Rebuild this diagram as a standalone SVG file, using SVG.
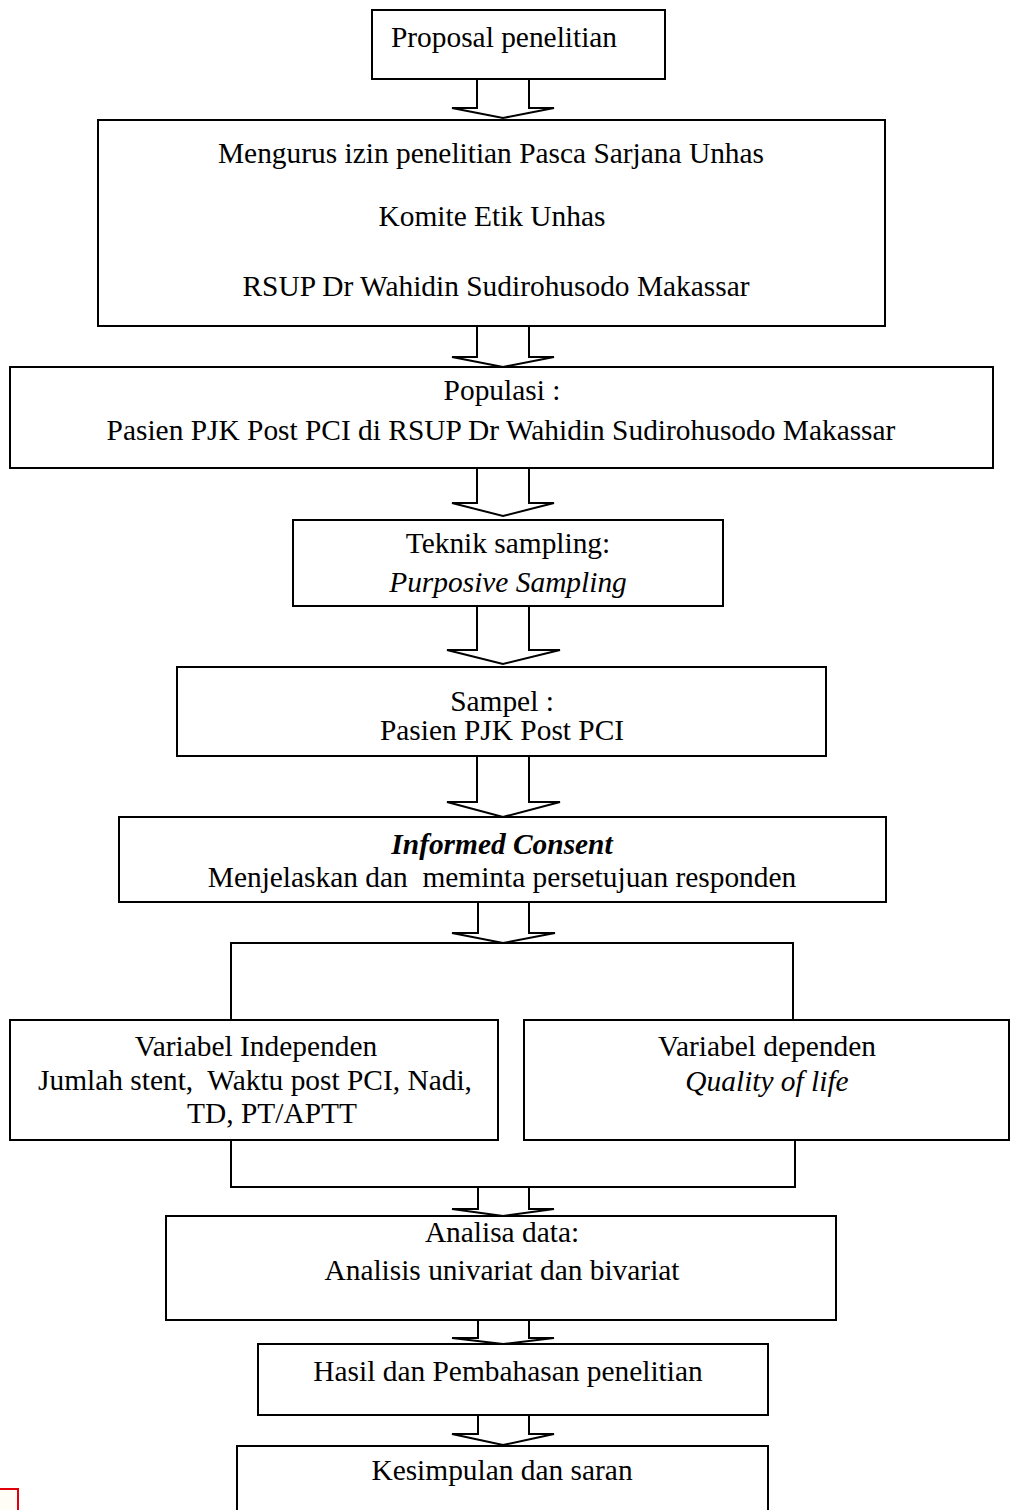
<svg xmlns="http://www.w3.org/2000/svg" width="1010" height="1510" viewBox="0 0 1010 1510">
<style>
.b{fill:#fff;stroke:#000;stroke-width:2}
.a{fill:#fff;stroke:#000;stroke-width:2;stroke-linejoin:miter}
.l{fill:none;stroke:#000;stroke-width:2}
text{font-family:"Liberation Serif","Times New Roman",serif;font-size:29.4px;fill:#000;text-anchor:middle}
.i{font-style:italic}
.bi{font-style:italic;font-weight:bold}
</style>
<rect width="1010" height="1510" fill="#fff"/>
<g id="connectors">
<path class="l" d="M231,1020 V943 H793 V1020"/>
<path class="l" d="M231,1140 V1187 H795 V1140"/>
</g>
<g id="n1"><rect class="b" x="372" y="10" width="293" height="69"/><text x="504" y="47">Proposal penelitian</text></g>
<g id="n2"><rect class="b" x="98" y="120" width="787" height="206"/>
<text x="491" y="163">Mengurus izin penelitian Pasca Sarjana Unhas</text>
<text x="492" y="226">Komite Etik Unhas</text>
<text x="496" y="296">RSUP Dr Wahidin Sudirohusodo Makassar</text></g>
<g id="n3"><rect class="b" x="10" y="367" width="983" height="101"/>
<text x="502" y="400">Populasi :</text>
<text x="501" y="440">Pasien PJK Post PCI di RSUP Dr Wahidin Sudirohusodo Makassar</text></g>
<g id="n4"><rect class="b" x="293" y="520" width="430" height="86"/>
<text x="508" y="553">Teknik sampling:</text>
<text class="i" x="508" y="592">Purposive Sampling</text></g>
<g id="n5"><rect class="b" x="177" y="667" width="649" height="89"/>
<text x="502" y="711">Sampel :</text>
<text x="502" y="740">Pasien PJK Post PCI</text></g>
<g id="n6"><rect class="b" x="119" y="817" width="767" height="85"/>
<text class="bi" x="502" y="854">Informed Consent</text>
<text x="502" y="887" xml:space="preserve">Menjelaskan dan  meminta persetujuan responden</text></g>
<g id="n7"><rect class="b" x="10" y="1020" width="488" height="120"/>
<text x="256" y="1056">Variabel Independen</text>
<text x="255" y="1090" xml:space="preserve">Jumlah stent,  Waktu post PCI, Nadi,</text>
<text x="272" y="1123">TD, PT/APTT</text></g>
<g id="n8"><rect class="b" x="524" y="1020" width="485" height="120"/>
<text x="767" y="1056">Variabel dependen</text>
<text class="i" x="767" y="1091">Quality of life</text></g>
<g id="n9"><rect class="b" x="166" y="1216" width="670" height="104"/>
<text x="502" y="1242">Analisa data:</text>
<text x="502" y="1280">Analisis univariat dan bivariat</text></g>
<g id="n10"><rect class="b" x="258" y="1344" width="510" height="71"/>
<text x="508" y="1381">Hasil dan Pembahasan penelitian</text></g>
<g id="n11"><rect class="b" x="237" y="1446" width="531" height="80"/>
<text x="502" y="1480">Kesimpulan dan saran</text></g>
<g id="arrows">
<polygon class="a" points="477,79 477,108 452,108 503,118 554,108 529,108 529,79"/>
<polygon class="a" points="477,326 477,357 452,357 503,367 554,357 529,357 529,326"/>
<polygon class="a" points="477,468 477,503 452,503 503,516 554,503 529,503 529,468"/>
<polygon class="a" points="477,606 477,650 447,650 503,664 560,650 529,650 529,606"/>
<polygon class="a" points="477,756 477,802 447,802 503,817 560,802 529,802 529,756"/>
<polygon class="a" points="478,902 478,933 452,933 503,943 555,933 529,933 529,902"/>
<polygon class="a" points="478,1187 478,1209 452,1209 503,1216 554,1209 529,1209 529,1187"/>
<polygon class="a" points="478,1320 478,1338 452,1338 503,1344 554,1338 529,1338 529,1320"/>
<polygon class="a" points="478,1415 478,1434 452,1434 503,1445 554,1434 529,1434 529,1415"/>
</g>
<rect x="-10" y="1489" width="28" height="30" fill="#fffdf5" stroke="#e0000b" stroke-width="2"/>
</svg>
